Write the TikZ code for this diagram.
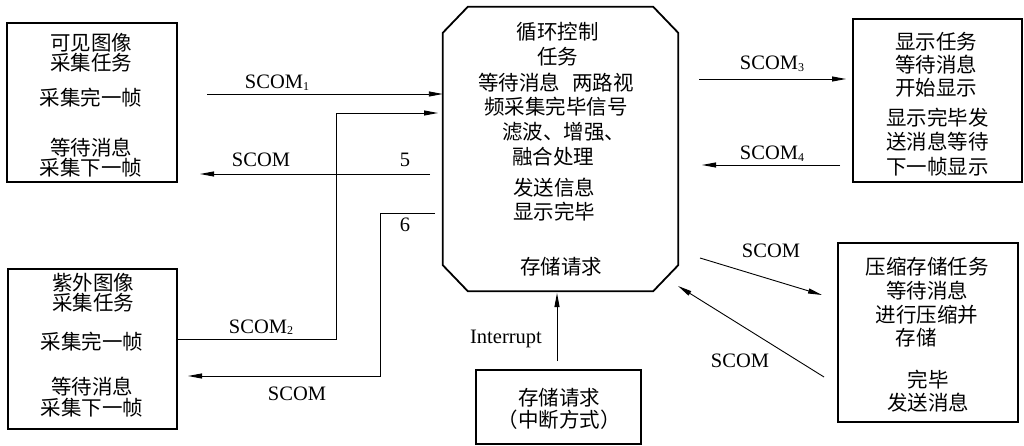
\documentclass[tikz,border=0pt]{standalone}
\usepackage{fontspec}
\setmainfont{Liberation Serif}
\newfontfamily\cjk{Noto Sans CJK SC}
\usetikzlibrary{arrows.meta}
\newcommand\mysub[1]{\raisebox{-0.2ex}{\fontsize{12}{12}\selectfont #1}}
\begin{document}
\begin{tikzpicture}[x=1pt,y=-1pt,
  boxline/.style={draw=black,line width=1.8pt},
  taskbox/.style={boxline,rectangle,inner sep=0pt},
  conn/.style={draw=black,line width=0.9pt},
  arr/.style={conn,-{Triangle[length=14pt,width=5pt]}},
  cjktxt/.style={font=\cjk\fontsize{20.5}{#1}\selectfont,align=center,inner sep=0pt},
  cjktxt/.default=20,
  lbl/.style={font=\fontsize{20.5}{22}\selectfont,inner sep=0pt,anchor=base}]
\useasboundingbox (0,0) rectangle (1024,446);
% boxes
\node[taskbox,minimum width=170pt,minimum height=159pt] (boxA) at (92,102.5) {};
\node[taskbox,minimum width=169pt,minimum height=160pt] (boxB) at (92.5,349) {};
\node[taskbox,minimum width=169pt,minimum height=163pt] (boxD) at (937.5,100.5) {};
\node[taskbox,minimum width=180pt,minimum height=179pt] (boxC) at (928,332.5) {};
\node[taskbox,minimum width=165pt,minimum height=74pt] (boxS) at (558.5,407) {};
% central octagon
\node[minimum width=235pt,minimum height=284pt,inner sep=0pt] (ctrl) at (560.5,149) {};
\draw[boxline] ([xshift=25pt]ctrl.north west) -- ([xshift=-25pt]ctrl.north east)
  -- ([yshift=-26pt]ctrl.north east) -- ([yshift=26pt]ctrl.south east)
  -- ([xshift=-25pt]ctrl.south east) -- ([xshift=25pt]ctrl.south west)
  -- ([yshift=26pt]ctrl.south west) -- ([yshift=-26pt]ctrl.north west) -- cycle;
% texts: visible box
\node[cjktxt=19.5] (a1) at (91,52.5) {可见图像\\采集任务};
\node[cjktxt] (a2) at (91,98) {采集完一帧};
\node[cjktxt=20] (a3) at (91,158) {等待消息\\采集下一帧};
% UV box
\node[cjktxt=20] (b1) at (93,293) {紫外图像\\采集任务};
\node[cjktxt] (b2) at (92,342) {采集完一帧};
\node[cjktxt=21] (b3) at (92,397.5) {等待消息\\采集下一帧};
% central
\node[cjktxt=25] (c1) at (557.5,44.5) {循环控制\\任务};
\node[cjktxt=24] (c2) at (556,95) {等待消息\hspace{0.6em}两路视\\频采集完毕信号};
\node[cjktxt,anchor=west] (c3) at (502,132) {滤波、增强、};
\node[cjktxt,anchor=west] (c4) at (512,157) {融合处理};
\node[cjktxt=24] (c5) at (554,200) {发送信息\\显示完毕};
\node[cjktxt] (c6) at (561,267) {存储请求};
% display box
\node[cjktxt=23] (d1) at (936,65) {显示任务\\等待消息\\开始显示};
\node[cjktxt=24.5] (d2) at (937.5,142) {显示完毕发\\送消息等待\\下一帧显示};
% compress box
\node[cjktxt=24] (e1) at (927,291) {压缩存储任务\\等待消息\\进行压缩并};
\node[cjktxt] (e2) at (916,338) {存储};
\node[cjktxt=23] (e3) at (928,391.5) {完毕\\发送消息};
% storage request box
\node[cjktxt=22] (s1) at (559,409) {存储请求\\（中断方式）};
% connector end points
\coordinate (p1s) at (207,94);
\coordinate (p1e) at (ctrl.west |- p1s);
\coordinate (p2s) at (boxB.east |- 0,339);
\coordinate (p2a) at (336,339);
\coordinate (p2b) at (336,113);
\coordinate (p2e) at (438,113);
\coordinate (p3s) at (430,174);
\coordinate (p3e) at (200,174);
\coordinate (p4s) at (435,213);
\coordinate (p4a) at (380,213);
\coordinate (p4b) at (380,376);
\coordinate (p4e) at (188,376);
\coordinate (p5s) at (699,79);
\coordinate (p5e) at (846,79);
\coordinate (p6s) at (840,165);
\coordinate (p6e) at (702,165);
\coordinate (p7s) at (700,258);
\coordinate (p7e) at (822,295);
\coordinate (p8s) at (824,377);
\coordinate (p8e) at (678,286);
\coordinate (p9s) at (557,361);
\coordinate (p9e) at (557,293);
% connectors
\draw[arr] (p1s) -- (p1e);
\draw[arr] (p2s) -- (p2a) -- (p2b) -- (p2e);
\draw[arr] (p3s) -- (p3e);
\draw[arr] (p4s) -- (p4a) -- (p4b) -- (p4e);
\draw[arr] (p5s) -- (p5e);
\draw[arr] (p6s) -- (p6e);
\draw[arr] (p7s) -- (p7e);
\draw[arr] (p8s) -- (p8e);
\draw[arr] (p9s) -- (p9e);
% labels
\node[lbl] (l1) at (277,89) {SCOM\mysub{1}};
\node[lbl] (l2) at (261,167) {SCOM};
\node[lbl] (l3) at (405,167) {5};
\node[lbl] (l4) at (405,232) {6};
\node[lbl] (l5) at (261,333) {SCOM\mysub{2}};
\node[lbl] (l6) at (297,400) {SCOM};
\node[lbl] (l7) at (772,70) {SCOM\mysub{3}};
\node[lbl] (l8) at (772,160) {SCOM\mysub{4}};
\node[lbl] (l9) at (771,257) {SCOM};
\node[lbl] (l10) at (740,367) {SCOM};
\node[lbl] (l11) at (506,343) {Interrupt};
\end{tikzpicture}
\end{document}
